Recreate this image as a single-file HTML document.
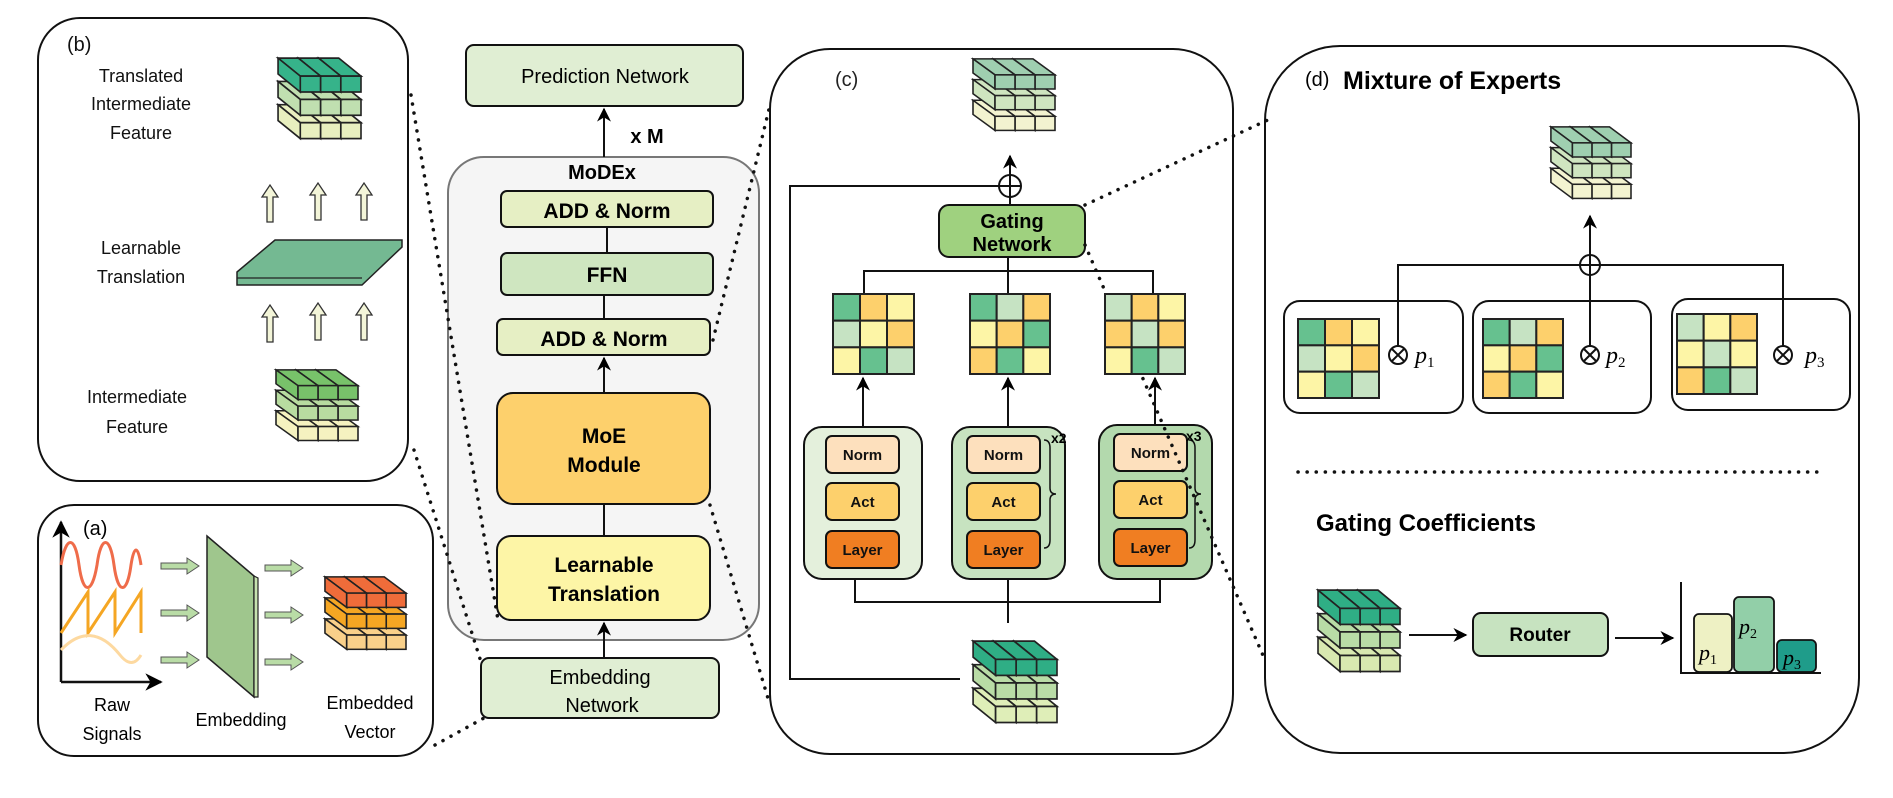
<!DOCTYPE html>
<html><head><meta charset="utf-8"><style>
html,body{margin:0;padding:0;background:#fff;}
svg{display:block;font-family:"Liberation Sans",sans-serif;}
</style></head><body>
<svg id="s" width="1893" height="798" viewBox="0 0 1893 798" xmlns="http://www.w3.org/2000/svg">
<defs>
<marker id="ah" viewBox="0 0 10 10" refX="9" refY="5" markerWidth="7" markerHeight="7" orient="auto-start-reverse"><path d="M0,0 L10,5 L0,10 L3,5 z" fill="#000"/></marker>
</defs>
<g fill="none" stroke="#111" stroke-width="2">
<rect x="38" y="18" width="370" height="463" rx="42"/>
<rect x="38" y="505" width="395" height="251" rx="36"/>
<rect x="770" y="49" width="463" height="705" rx="60"/>
<rect x="1265" y="46" width="594" height="707" rx="75"/>
</g>
<!-- MoDEx -->
<rect x="448" y="157" width="311" height="483" rx="36" fill="#f5f5f5" stroke="#777" stroke-width="2"/>
<text x="602" y="179" font-size="20" font-weight="bold" text-anchor="middle">MoDEx</text>
<g stroke="#111" stroke-width="2">
<line x1="607" y1="227" x2="607" y2="253"/><line x1="604" y1="295" x2="604" y2="319"/>
<line x1="604" y1="504" x2="604" y2="536"/>
<line x1="604" y1="393" x2="604" y2="358" marker-end="url(#ah)"/>
<line x1="604" y1="658" x2="604" y2="623" marker-end="url(#ah)"/>
<line x1="604" y1="157" x2="604" y2="109" marker-end="url(#ah)"/>
</g>
<g stroke="#111" stroke-width="2">
<rect x="466" y="45" width="277" height="61" rx="8" fill="#e0eed3"/>
<rect x="501" y="191" width="212" height="36" rx="6" fill="#e6efc4"/>
<rect x="501" y="253" width="212" height="42" rx="6" fill="#cfe6c0"/>
<rect x="497" y="319" width="213" height="36" rx="6" fill="#e6efc4"/>
<rect x="497" y="393" width="213" height="111" rx="16" fill="#fdd06c"/>
<rect x="497" y="536" width="213" height="84" rx="14" fill="#fdf5a6"/>
<rect x="481" y="658" width="238" height="60" rx="8" fill="#e0eed3"/>
</g>
<g text-anchor="middle" font-size="20">
<text x="605" y="83">Prediction Network</text>
<text x="647" y="143" font-weight="bold">x M</text>
<text x="607" y="218" font-weight="bold" font-size="21">ADD &amp; Norm</text>
<text x="607" y="282" font-weight="bold" font-size="21">FFN</text>
<text x="604" y="346" font-weight="bold" font-size="21">ADD &amp; Norm</text>
<text x="604" y="443" font-weight="bold" font-size="21">MoE</text>
<text x="604" y="472" font-weight="bold" font-size="21">Module</text>
<text x="604" y="572" font-weight="bold" font-size="21">Learnable</text>
<text x="604" y="601" font-weight="bold" font-size="21">Translation</text>
<text x="600" y="684">Embedding</text>
<text x="602" y="712">Network</text>
</g>
<!-- panel b -->
<g font-size="18" text-anchor="middle" fill="#111">
<text x="67" y="51" font-size="20" text-anchor="start">(b)</text>
<text x="141" y="82">Translated</text>
<text x="141" y="110">Intermediate</text>
<text x="141" y="139">Feature</text>
<text x="141" y="254">Learnable</text>
<text x="141" y="283">Translation</text>
<text x="137" y="403">Intermediate</text>
<text x="137" y="433">Feature</text>
</g>
<polygon points="237,272 275,240 402,240 402,247 362,285 237,285" fill="#74b992" stroke="#222" stroke-width="1.5"/>
<line x1="237" y1="278" x2="362" y2="278" stroke="#222" stroke-width="1.2"/>
<g id="upar" fill="#f3f5d8" stroke="#333" stroke-width="1.3"></g>
<!-- panel a -->
<text x="83" y="535" font-size="20">(a)</text>
<g stroke="#111" stroke-width="2.5" fill="none">
<line x1="61" y1="682" x2="61" y2="522" marker-end="url(#ah)"/>
<line x1="61" y1="682" x2="161" y2="682" marker-end="url(#ah)"/>
</g>
<path d="M61,565 C66,535 75,535 79,565 C83,595 92,595 97,565 C101,535 110,535 114,565 C118,595 127,595 131,565 C134,545 138,545 141,565" stroke="#ef6c4a" stroke-width="3" fill="none"/>
<path d="M61,633 L88,592 L88,633 L115,592 L115,633 L141,592 L141,633" stroke="#f5a623" stroke-width="3" fill="none"/>
<path d="M61,650 C80,630 100,630 120,655 C128,665 135,665 141,655" stroke="#fdd9a0" stroke-width="3" fill="none"/>
<g id="blk" fill="#b9dca6" stroke="#555" stroke-width="1"></g>
<polygon points="207,536 254,576 254,697 207,657" fill="#9fc68d" stroke="#222" stroke-width="1.5"/>
<polygon points="254,576 258,578 258,697 254,697" fill="#c7e3b0" stroke="#222" stroke-width="1.2"/>
<g font-size="18" text-anchor="middle">
<text x="112" y="711">Raw</text><text x="112" y="740">Signals</text>
<text x="241" y="726">Embedding</text>
<text x="370" y="709">Embedded</text><text x="370" y="738">Vector</text>
</g>
<!-- panel c -->
<text x="835" y="86" font-size="20" fill="#222">(c)</text>
<g stroke="#111" stroke-width="2" fill="none">
<polyline points="999,186 790,186 790,679 960,679"/>
<line x1="1010" y1="205" x2="1010" y2="156" marker-end="url(#ah)"/>
<circle cx="1010" cy="186" r="11" fill="#fff"/>
<line x1="999" y1="186" x2="1021" y2="186"/>
<line x1="1010" y1="175" x2="1010" y2="197"/>
<polyline points="864,294 864,271 1153,271 1153,294"/>
<line x1="1008" y1="257" x2="1008" y2="294"/>
<polyline points="855,579 855,602 1160,602 1160,579"/>
<line x1="1008" y1="579" x2="1008" y2="623"/>
<line x1="863" y1="427" x2="863" y2="378" marker-end="url(#ah)"/>
<line x1="1008" y1="427" x2="1008" y2="378" marker-end="url(#ah)"/>
<line x1="1155" y1="425" x2="1155" y2="378" marker-end="url(#ah)"/>
</g>
<rect x="939" y="205" width="146" height="52" rx="10" fill="#9fd17f" stroke="#111" stroke-width="2"/>
<text x="1012" y="228" font-size="20" font-weight="bold" text-anchor="middle">Gating</text>
<text x="1012" y="251" font-size="20" font-weight="bold" text-anchor="middle">Network</text>
<g stroke="#111" stroke-width="2">
<rect x="804" y="427" width="118" height="152" rx="18" fill="#e4f0dc"/>
<rect x="952" y="427" width="113" height="152" rx="18" fill="#c7e3c0"/>
<rect x="1099" y="425" width="113" height="154" rx="18" fill="#b3d9ad"/>
</g>
<g id="inner" stroke="#111" stroke-width="2"></g>
<g fill="none" stroke="#111" stroke-width="1.5">
<path d="M1044,440 q6,0 6,8 v40 q0,6 6,6 q-6,0 -6,6 v40 q0,8 -6,8"/>
<path d="M1189,440 q6,0 6,8 v40 q0,6 6,6 q-6,0 -6,6 v40 q0,8 -6,8"/>
</g>
<text x="1051" y="443" font-size="14" font-weight="bold">x2</text>
<text x="1186" y="441" font-size="14" font-weight="bold">x3</text>
<!-- panel d -->
<text x="1305" y="86" font-size="20">(d)</text>
<text x="1343" y="89" font-size="25" font-weight="bold">Mixture of Experts</text>
<g stroke="#111" stroke-width="2">
<rect x="1284" y="301" width="179" height="112" rx="16" fill="#fff"/>
<rect x="1473" y="301" width="178" height="112" rx="16" fill="#fff"/>
<rect x="1672" y="299" width="178" height="111" rx="16" fill="#fff"/>
</g>
<g stroke="#111" stroke-width="2" fill="none">
<polyline points="1398,355 1398,265 1783,265 1783,355"/>
<line x1="1590" y1="355" x2="1590" y2="265"/>
<line x1="1590" y1="255" x2="1590" y2="216" marker-end="url(#ah)"/>
<circle cx="1590" cy="265" r="10" fill="#fff"/>
<line x1="1580" y1="265" x2="1600" y2="265"/>
<line x1="1590" y1="255" x2="1590" y2="275"/>
<line x1="1409" y1="635" x2="1466" y2="635" marker-end="url(#ah)"/>
<line x1="1615" y1="638" x2="1673" y2="638" marker-end="url(#ah)"/>
<polyline points="1681,582 1681,673 1821,673"/>
</g>
<g id="otimes" stroke="#111" stroke-width="2" fill="#fff"></g>
<g font-family="'Liberation Serif',serif" font-style="italic" font-size="24">
<text x="1415" y="363">p<tspan font-size="15" font-style="normal" dy="4">1</tspan></text>
<text x="1606" y="363">p<tspan font-size="15" font-style="normal" dy="4">2</tspan></text>
<text x="1805" y="363">p<tspan font-size="15" font-style="normal" dy="4">3</tspan></text>
</g>
<text x="1316" y="531" font-size="24" font-weight="bold">Gating Coefficients</text>
<rect x="1473" y="613" width="135" height="43" rx="8" fill="#c7e3c0" stroke="#111" stroke-width="2"/>
<text x="1540" y="641" font-size="19" font-weight="bold" text-anchor="middle">Router</text>
<g stroke="#111" stroke-width="1.8">
<rect x="1694" y="614" width="38" height="58" rx="5" fill="#eef1c4"/>
<rect x="1734" y="597" width="40" height="75" rx="5" fill="#92cfa8"/>
<rect x="1777" y="640" width="39" height="32" rx="5" fill="#1f9c8a"/>
</g>
<g font-family="'Liberation Serif',serif" font-style="italic" font-size="22">
<text x="1699" y="660">p<tspan font-size="14" font-style="normal" dy="4">1</tspan></text>
<text x="1739" y="634">p<tspan font-size="14" font-style="normal" dy="4">2</tspan></text>
<text x="1783" y="665">p<tspan font-size="14" font-style="normal" dy="4">3</tspan></text>
</g>
<!-- dotted connectors (on top) -->
<g stroke="#111" stroke-width="3.5" stroke-dasharray="0.1 9" stroke-linecap="round" fill="none">
<line x1="411" y1="95" x2="498" y2="620"/>
<line x1="414" y1="450" x2="482" y2="665"/>
<line x1="435" y1="745" x2="484" y2="718"/>
<line x1="713" y1="340" x2="770" y2="105"/>
<line x1="710" y1="505" x2="770" y2="705"/>
<line x1="1085" y1="205" x2="1272" y2="118"/>
<line x1="1085" y1="245" x2="1265" y2="660"/>
<line x1="1298" y1="472" x2="1823" y2="472"/>
</g>
<g id="dyn"></g>
</svg>
<script>
var NS="http://www.w3.org/2000/svg",dyn=document.getElementById('dyn');
function el(p,t,a){var e=document.createElementNS(NS,t);for(var k in a)e.setAttribute(k,a[k]);p.appendChild(e);return e;}
function cube(x,y,w,h,cols){
 var g=el(dyn,'g',{transform:'translate('+x+','+y+') scale('+(w/86)+','+(h/85)+')',stroke:'#222','stroke-width':'1.6'});
 for(var r=2;r>=0;r--)for(var c=2;c>=0;c--){
  var fx=26+c*20,fy=19+r*22,fw=20,fh=15,dx=-22,dy=-17,col=cols[r];
  el(g,'polygon',{points:[fx,fy,fx+fw,fy,fx+fw+dx,fy+dy,fx+dx,fy+dy].join(','),fill:col});
  el(g,'polygon',{points:[fx,fy,fx+dx,fy+dy,fx+dx,fy+dy+fh,fx,fy+fh].join(','),fill:col});
  el(g,'rect',{x:fx,y:fy,width:fw,height:fh,fill:col});
 }
}
cube(274,56,87,90,['#36b38a','#c0dfb0','#e8efbf']);
cube(272,368,86,79,['#78c26a','#b8dca0','#f5f2c0']);
cube(321,575,85,81,['#ef6c3a','#f5a623','#f9d08a']);
cube(969,57,86,80,['#9fcfb0','#cfe5c0','#f3f3d0']);
cube(969,639,88,91,['#2fae85','#b9dca6','#dfeeb8']);
cube(1547,125,84,80,['#9fcfb0','#cfe5c0','#f3f3d0']);
cube(1314,588,86,91,['#2fae85','#b9dca6','#d8e8b0']);
var G='#66c18f',Y='#fdf5a6',O='#fdd06c',L='#c6e3c3';
function grid(x,y,w,h,m){var g=el(dyn,'g',{stroke:'#222','stroke-width':'2'});var cw=w/3,ch=h/3;
 for(var r=0;r<3;r++)for(var c=0;c<3;c++)el(g,'rect',{x:x+c*cw,y:y+r*ch,width:cw,height:ch,fill:m[r][c]});}
var m1=[[G,O,Y],[L,Y,O],[Y,G,L]],m2=[[G,L,O],[Y,O,G],[O,G,Y]],m3=[[L,O,Y],[O,L,O],[Y,G,L]],m3d=[[L,Y,O],[Y,L,Y],[O,G,L]];
grid(833,294,81,80,m1);grid(970,294,80,80,m2);grid(1105,294,80,80,m3);
grid(1298,319,81,79,m1);grid(1483,319,80,79,m2);grid(1677,314,80,80,m3d);
var inner=document.getElementById('inner');
[[826,436],[967,436],[1114,434]].forEach(function(p){
 [['Norm','#fde0bd',0],['Act','#fdd06c',47],['Layer','#f07e22',95]].forEach(function(b){
  el(inner,'rect',{x:p[0],y:p[1]+b[2],width:73,height:37,rx:6,fill:b[1]});
  var t=el(inner,'text',{x:p[0]+36.5,y:p[1]+b[2]+24,'font-size':'15','font-weight':'bold','text-anchor':'middle',stroke:'none',fill:'#111'});t.textContent=b[0];
 });
});
var ot=document.getElementById('otimes');
[1398,1590,1783].forEach(function(cx){el(ot,'circle',{cx:cx,cy:355,r:9});
 el(ot,'line',{x1:cx-6,y1:349,x2:cx+6,y2:361});el(ot,'line',{x1:cx+6,y1:349,x2:cx-6,y2:361});});
var up=document.getElementById('upar');
[[270,185],[318,183],[364,183],[270,305],[318,303],[364,303]].forEach(function(p){
 var x=p[0],y=p[1];el(up,'polygon',{points:[x-3,y+37,x-3,y+12,x-8,y+12,x,y,x+8,y+12,x+3,y+12,x+3,y+37].join(',')});});
var blk=document.getElementById('blk');
[[161,566],[161,613],[161,660],[265,568],[265,615],[265,662]].forEach(function(p){
 var x=p[0],y=p[1];el(blk,'polygon',{points:[x,y-3,x+26,y-3,x+26,y-8,x+38,y,x+26,y+8,x+26,y+3,x,y+3].join(',')});});
</script>
</body></html>
